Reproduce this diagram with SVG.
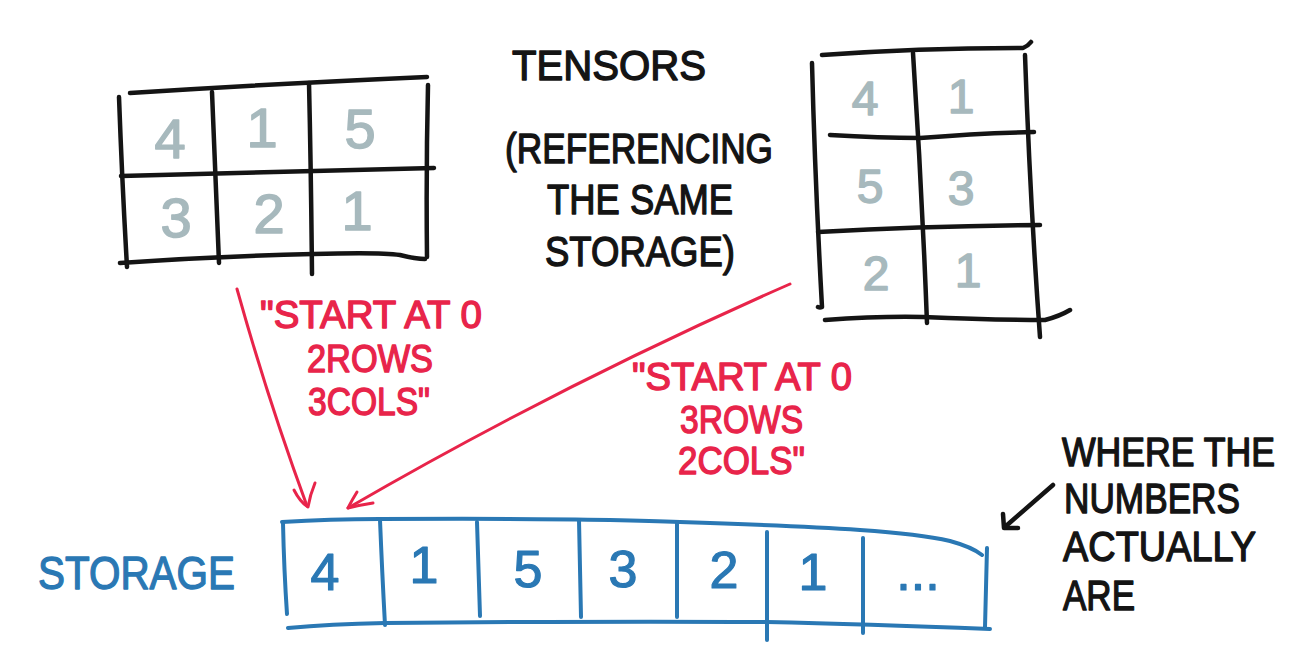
<svg xmlns="http://www.w3.org/2000/svg" width="1312" height="658" viewBox="0 0 1312 658">
<style>
.ink{fill:none;stroke:#141414;stroke-width:4.5;stroke-linecap:round;stroke-linejoin:round}
.blue{fill:none;stroke:#2a78b4;stroke-width:4;stroke-linecap:round;stroke-linejoin:round}
.red{fill:none;stroke:#e8244a;stroke-width:3;stroke-linecap:round;stroke-linejoin:round}
.t{font-family:"Liberation Sans",Arial,sans-serif;stroke-linejoin:round}
.tb{fill:#141414;stroke:#141414;stroke-width:1.4;font-size:43px}
.tr{fill:#e8244a;stroke:#e8244a;stroke-width:1.4;font-size:39px}
.tblue{fill:#2a78b4;stroke:#2a78b4;stroke-width:1.3;font-size:46px}
.dg{fill:#a7b9bd;stroke:#a7b9bd;stroke-width:1.5;text-anchor:middle}
.db{fill:#2a78b4;stroke:#2a78b4;stroke-width:1.2;text-anchor:middle;font-size:52px}
</style>
<rect width="1312" height="658" fill="#ffffff"/>

<g id="tensor-2x3">
<path class="ink" d="M130,93 Q270,84 427,77"/>
<path class="ink" d="M119,97 Q122,180 127,267"/>
<path class="ink" d="M212,92 Q214,150 219,263"/>
<path class="ink" d="M309,83 Q311,170 312,274"/>
<path class="ink" d="M428,85 Q426,170 427,257"/>
<path class="ink" d="M121,176 Q260,172 434,168"/>
<path class="ink" d="M120,263 Q220,256 313,254 Q380,252 400,255 Q416,259 425,259"/>
<g class="t dg" font-size="56">
<text x="170" y="158">4</text>
<text x="262" y="147">1</text>
<text x="360" y="148">5</text>
<text x="176" y="237">3</text>
<text x="269" y="233">2</text>
<text x="357" y="230">1</text>
</g>
</g>

<g id="tensor-3x2">
<path class="ink" d="M822,55 Q920,48 1023,48 Q1028,46 1031,42"/>
<path class="ink" d="M812,63 Q815,180 822,307 Q820,308 818,307"/>
<path class="ink" d="M913,53 Q922,190 927,323"/>
<path class="ink" d="M1025,55 Q1030,200 1040,337"/>
<path class="ink" d="M830,135 Q880,138 920,138 Q980,133 1034,132"/>
<path class="ink" d="M818,232 Q930,226 1040,225"/>
<path class="ink" d="M825,320 Q880,316 923,317 Q990,320 1045,320 Q1060,316 1070,310"/>
<g class="t dg" font-size="48">
<text x="865" y="115">4</text>
<text x="961" y="113">1</text>
<text x="870" y="203">5</text>
<text x="961" y="205">3</text>
<text x="876" y="290">2</text>
<text x="968" y="287">1</text>
</g>
</g>

<g id="title">
<text class="t tb" x="512" y="80" textLength="194" lengthAdjust="spacingAndGlyphs">TENSORS</text>
<text class="t tb" x="505" y="163" textLength="268" lengthAdjust="spacingAndGlyphs">(REFERENCING</text>
<text class="t tb" x="547" y="214" textLength="186" lengthAdjust="spacingAndGlyphs">THE SAME</text>
<text class="t tb" x="545" y="266" textLength="190" lengthAdjust="spacingAndGlyphs">STORAGE)</text>
</g>

<g id="note-2x3">
<text class="t tr" x="260" y="328" textLength="222" lengthAdjust="spacingAndGlyphs">"START AT 0</text>
<text class="t tr" x="307" y="372" textLength="126" lengthAdjust="spacingAndGlyphs">2ROWS</text>
<text class="t tr" x="308" y="415" textLength="122" lengthAdjust="spacingAndGlyphs">3COLS"</text>
</g>

<g id="note-3x2">
<text class="t tr" x="632" y="390" textLength="220" lengthAdjust="spacingAndGlyphs">"START AT 0</text>
<text class="t tr" x="680" y="433" textLength="123" lengthAdjust="spacingAndGlyphs">3ROWS</text>
<text class="t tr" x="678" y="474" textLength="127" lengthAdjust="spacingAndGlyphs">2COLS"</text>
</g>

<g id="storage">
<text class="t tblue" x="38" y="589" textLength="197" lengthAdjust="spacingAndGlyphs">STORAGE</text>
<path class="blue" d="M282,522 Q330,519 380,519 Q600,518 680,522 Q800,526 860,530 Q920,534 950,541 Q972,547 982,555"/>
<path class="blue" d="M283,523 Q284,570 287,614"/>
<path class="blue" d="M380,520 Q382,570 385,625"/>
<path class="blue" d="M477,522 L480,616"/>
<path class="blue" d="M579,520 L581,617"/>
<path class="blue" d="M677,523 L677,617"/>
<path class="blue" d="M767,532 L767,640"/>
<path class="blue" d="M863,538 L863,633"/>
<path class="blue" d="M987,548 L985,627"/>
<path class="blue" d="M288,628 Q330,624 385,623 Q600,621 767,622 Q863,624 990,629"/>
<g class="t db">
<text x="325" y="590">4</text>
<text x="424" y="583">1</text>
<text x="528" y="587">5</text>
<text x="623" y="587">3</text>
<text x="724" y="588">2</text>
<text x="813" y="590">1</text>
<text x="918" y="590">...</text>
</g>
</g>

<g id="note-where">
<text class="t tb" style="font-size:40px" x="1062" y="466" textLength="213" lengthAdjust="spacingAndGlyphs">WHERE THE</text>
<text class="t tb" x="1064" y="513" textLength="176" lengthAdjust="spacingAndGlyphs">NUMBERS</text>
<text class="t tb" x="1063" y="561" textLength="193" lengthAdjust="spacingAndGlyphs">ACTUALLY</text>
<text class="t tb" x="1063" y="610" textLength="72" lengthAdjust="spacingAndGlyphs">ARE</text>
</g>

<g id="connectors">
<path class="red" d="M237,289 Q268,400 307,506"/>
<path class="red" d="M294,490 Q300,502 308,507 Q310,495 315,483"/>
<path class="red" d="M790,284 Q560,385 348,508"/>
<path class="red" d="M357,492 Q352,500 348,508 Q360,505 373,503"/>
<path class="ink" d="M1053,485 Q1030,505 1006,526"/>
<path class="ink" d="M1003,514 L1004,528 L1018,528"/>
</g>
</svg>
